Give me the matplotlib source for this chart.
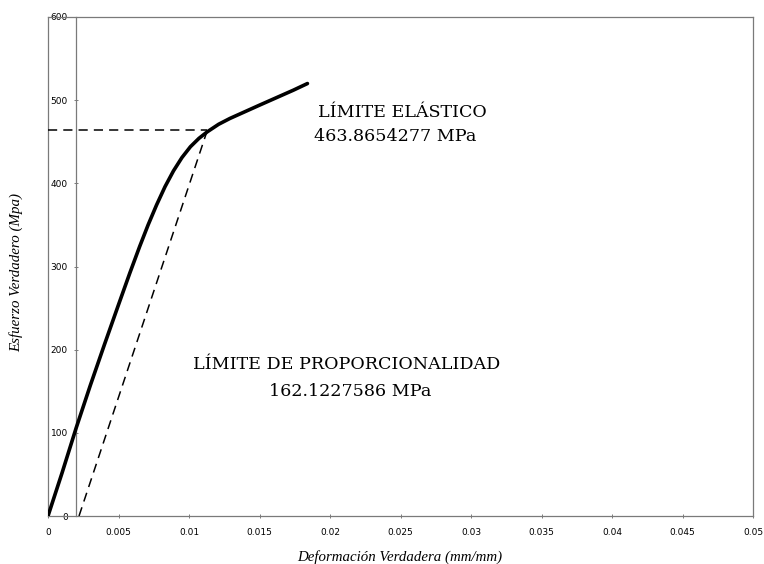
import matplotlib
matplotlib.use("Agg")
import matplotlib.pyplot as plt

# Data
strain = [0.0, 0.001, 0.002, 0.003, 0.004, 0.005, 0.0058, 0.0065, 0.0071, 0.0077,
          0.0083, 0.0089, 0.0095, 0.0101, 0.0107, 0.0113, 0.0121, 0.0129, 0.0150,
          0.0174, 0.0184]
stress = [0.0, 52, 106, 157, 206, 254, 292, 324, 350, 374,
          396, 415, 431, 444, 454, 462, 471, 478, 494,
          512, 520]

offset_strain = [0.0022, 0.0113]
offset_stress = [0.0, 463.8654277]
yield_stress = 463.8654277
offset_x = 0.002

xticks = [0, 0.005, 0.01, 0.015, 0.02, 0.025, 0.03, 0.035, 0.04, 0.045, 0.05]
xticklabels = ["0", "0.005", "0.01", "0.015", "0.02", "0.025", "0.03", "0.035", "0.04", "0.045", "0.05"]
yticks = [0, 100, 200, 300, 400, 500, 600]

fig = plt.figure(figsize=(7.64, 5.64), dpi=100)
ax = fig.add_axes([48/764, 1-516/564, (753-48)/764, (516-17)/564])

frame_c = "#7a7a7a"
ax.plot(strain, stress, color="black", lw=2.6, solid_capstyle="round",
        solid_joinstyle="round", zorder=5)
ax.plot(offset_strain, offset_stress, color="black", lw=1.1, dashes=(6, 4), zorder=4)
ax.plot([0, offset_strain[1]], [yield_stress, yield_stress], color="black", lw=1.1,
        dashes=(6, 4), zorder=4)

ax.set_xlim(0, 0.05)
ax.set_ylim(0, 600)

for s in ["top", "right", "bottom", "left"]:
    ax.spines[s].set_color(frame_c)
    ax.spines[s].set_linewidth(0.9)
ax.spines["left"].set_position(("data", offset_x))
ax.axvline(0, color=frame_c, lw=0.9, clip_on=False)

ax.set_xticks(xticks)
ax.set_xticklabels(xticklabels)
ax.set_yticks(yticks)
ax.tick_params(axis="both", direction="inout", length=3, width=0.7, color=frame_c,
               labelsize=6.5)
ax.tick_params(axis="x", pad=7)
ax.tick_params(axis="y", pad=4.5)

ax.set_xlabel("Deformación Verdadera (mm/mm)", family="Liberation Serif", style="italic",
              fontsize=10.7)
ax.xaxis.set_label_coords((400-48)/705, -(550-516)/499)
ax.set_ylabel("Esfuerzo Verdadero (Mpa)", family="Liberation Serif", style="italic",
              fontsize=10.8)
ax.yaxis.set_label_coords(-(48-23)/705, (516-272)/499)

txt = dict(family="DejaVu Serif", fontsize=12.6, ha="center", va="center")
ax.text(0.02511, 485.6, "LÍMITE ELÁSTICO", **txt)
ax.text(0.02461, 456.7, "463.8654277 MPa", **txt)
ax.text(0.02121, 182.7, "LÍMITE DE PROPORCIONALIDAD", **txt)
ax.text(0.02142, 150.2, "162.1227586 MPa", **txt)

fig.savefig("out.png", dpi=100)
